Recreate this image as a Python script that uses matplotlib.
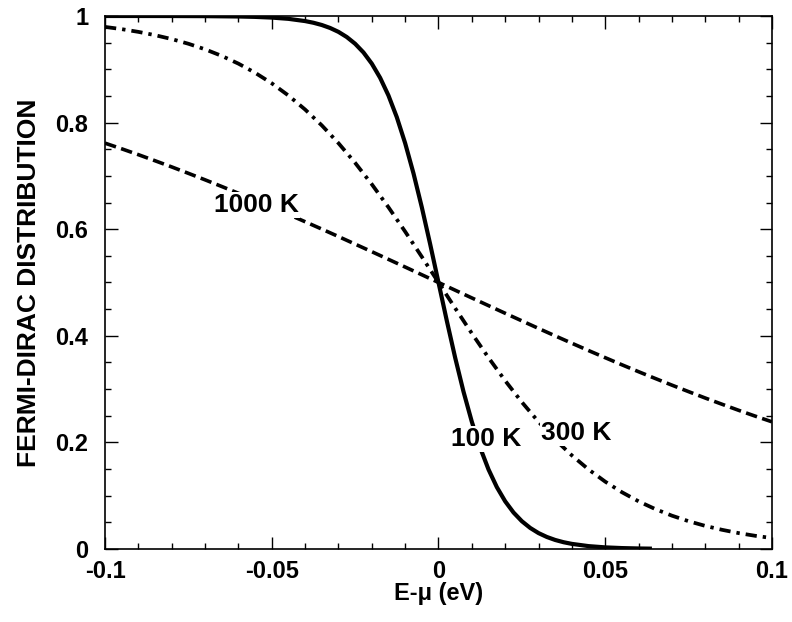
import matplotlib.pyplot as plt
from matplotlib.ticker import MultipleLocator

plt.rcParams['font.family'] = ['Liberation Sans', 'DejaVu Sans']
plt.rcParams['font.weight'] = 'bold'

# values
x_1000 = [-0.1, -0.095, -0.09, -0.085, -0.08, -0.075, -0.07, -0.065, -0.06, -0.055, -0.05,
          -0.045, -0.04, -0.035, -0.03, -0.025, -0.02, -0.015, -0.01, -0.005, 0.0,
          0.005, 0.01, 0.015, 0.02, 0.025, 0.03, 0.035, 0.04, 0.045, 0.05,
          0.055, 0.06, 0.065, 0.07, 0.075, 0.08, 0.085, 0.09, 0.095, 0.1]
f_1000 = [0.7614, 0.7508, 0.7398, 0.7284, 0.7168, 0.7048, 0.6926, 0.6801, 0.6674, 0.6544, 0.6411,
          0.6277, 0.6140, 0.6002, 0.5862, 0.5720, 0.5578, 0.5434, 0.5290, 0.5145, 0.5,
          0.4855, 0.4710, 0.4566, 0.4422, 0.4280, 0.4138, 0.3998, 0.3860, 0.3723, 0.3589,
          0.3456, 0.3326, 0.3199, 0.3074, 0.2952, 0.2832, 0.2716, 0.2602, 0.2492, 0.2386]

x_300 = x_1000
f_300 = [0.9795, 0.9753, 0.9702, 0.9640, 0.9567, 0.9479, 0.9375, 0.9251, 0.9106, 0.8935, 0.8737,
         0.8508, 0.8245, 0.7948, 0.7614, 0.7245, 0.6843, 0.6411, 0.5955, 0.5482, 0.5,
         0.4518, 0.4045, 0.3589, 0.3157, 0.2755, 0.2386, 0.2052, 0.1755, 0.1492, 0.1263,
         0.1065, 0.0894, 0.0749, 0.0625, 0.0521, 0.0433, 0.0360, 0.0298, 0.0247, 0.0205]

x_100 = [-0.1, -0.09, -0.08, -0.07, -0.06, -0.055, -0.05, -0.045, -0.04, -0.0375, -0.035,
         -0.0325, -0.03, -0.0275, -0.025, -0.0225, -0.02, -0.0175, -0.015, -0.0125, -0.01,
         -0.0075, -0.005, -0.0025, 0.0, 0.0025, 0.005, 0.0075, 0.01, 0.0125, 0.015,
         0.0175, 0.02, 0.0225, 0.025, 0.0275, 0.03, 0.0325, 0.035, 0.0375, 0.04,
         0.045, 0.05, 0.055, 0.06, 0.064]
f_100 = [1.0, 0.99997, 0.99991, 0.9997, 0.99905, 0.99831, 0.99699, 0.99464, 0.99045, 0.9873, 0.9831,
         0.9775, 0.9702, 0.9605, 0.9479, 0.9316, 0.9106, 0.8840, 0.8508, 0.8101, 0.7614,
         0.7048, 0.6411, 0.5720, 0.5, 0.4280, 0.3589, 0.2952, 0.2386, 0.1899, 0.1492,
         0.1160, 0.0894, 0.0684, 0.0521, 0.0395, 0.0298, 0.0225, 0.0169, 0.0127, 0.00955,
         0.00536, 0.00301, 0.00169, 0.00095, 0.00059]

labels = ['1000 K', '100 K', '300 K']
label_pos = [(-0.0546, 0.645), (0.0144, 0.206), (0.0412, 0.218)]

fig = plt.figure(figsize=(7.92, 6.22), dpi=100)
ax = fig.add_axes([0.1326, 0.1174, 0.8421, 0.8569])

ax.plot(x_100, f_100, color='black', lw=3.0, solid_capstyle='butt')
ax.plot(x_300, f_300, color='black', lw=2.7, linestyle=(0, (3.0, 1.6, 0.9, 1.6)), dash_capstyle='butt')
ax.plot(x_1000, f_1000, color='black', lw=2.6, linestyle=(0, (3.2, 1.5)), dash_capstyle='butt')

for lab, (lx, ly) in zip(labels, label_pos):
    ax.text(lx, ly, lab, fontsize=19, fontweight='bold', ha='center', va='center', zorder=5,
            bbox=dict(facecolor='white', edgecolor='none', pad=0.5))

ax.set_xlim(-0.1, 0.1)
ax.set_ylim(0, 1)
ax.xaxis.set_minor_locator(MultipleLocator(0.01))
ax.yaxis.set_minor_locator(MultipleLocator(0.05))
ax.set_xticks([-0.1, -0.05, 0, 0.05, 0.1])
ax.set_xticklabels(['-0.1', '-0.05', '0', '0.05', '0.1'])
ax.set_yticks([0, 0.2, 0.4, 0.6, 0.8, 1.0])
ax.set_yticklabels(['0', '0.2', '0.4', '0.6', '0.8', '1'])
ax.tick_params(which='both', direction='in', top=True, right=True, width=1)
ax.tick_params(which='major', length=9, labelsize=17)
ax.tick_params(which='minor', length=4.5)
ax.tick_params(axis='x', which='major', pad=8)
ax.tick_params(axis='y', which='major', pad=12)
for s in ax.spines.values():
    s.set_linewidth(1.2)

ax.set_xlabel('E-\u03bc (eV)', fontsize=17, fontweight='bold', labelpad=-1)
ax.set_ylabel('FERMI-DIRAC DISTRIBUTION', fontsize=19, fontweight='bold', labelpad=10)

fig.savefig('out.png', dpi=100)
